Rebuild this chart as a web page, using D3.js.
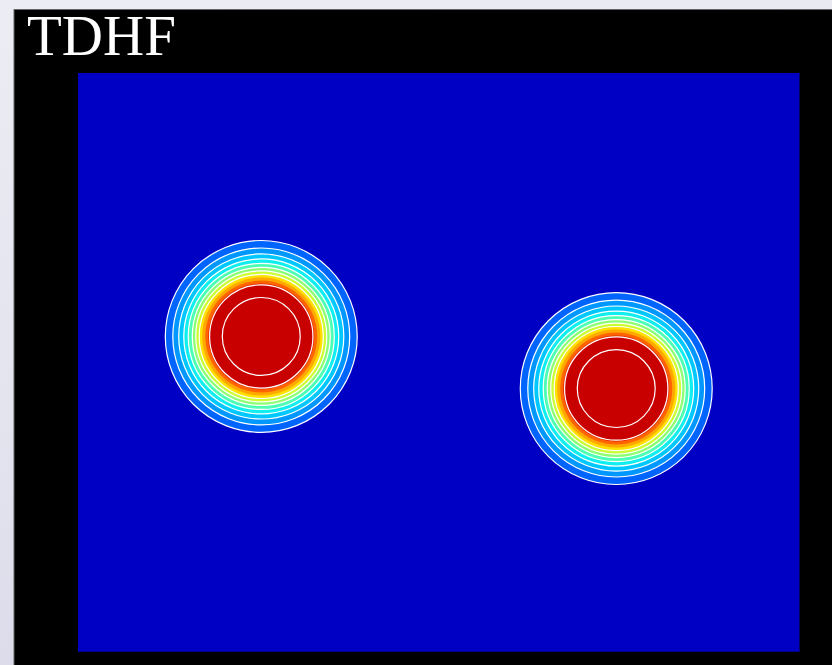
<!DOCTYPE html>
<html>
<head>
<meta charset="utf-8">
<script src="https://cdn.jsdelivr.net/npm/d3@7"></script>
<style>
  html, body { margin: 0; padding: 0; }
  body { width: 832px; height: 665px; overflow: hidden;
         background: linear-gradient(170deg, #ececf4 0%, #e2e2ee 60%, #d6d6e8 100%); }
  svg { display: block; }
</style>
</head>
<body>
<svg id="chart" width="832" height="665"></svg>
<script>
// ---- data ----
const title = "TDHF";
// nucleus centres in fm
const centersX = [-12.3, 12.3];
const centersY = [1.8, -1.8];
// filled density bands: outer radius (fm) of each band, outside -> inside
const bandRadii = [6.65, 6.13, 5.72, 5.37, 5.06, 4.78, 4.54, 4.30, 4.09, 3.88, 3.67];
const bandColors = ["#0064ff", "#0098ff", "#00c8ff", "#10eef0", "#4cffb4", "#8cff72",
                    "#ccff32", "#ffe000", "#ffa800", "#ff6400", "#e42000"];
const coreColor = "#c80000";
// white contour lines (fm)
const contourRadii = [6.65, 6.13, 5.72, 5.37, 5.06, 4.78, 4.54, 4.30, 3.58, 2.70];
// plot domain (fm)
const xDomain = [-25, 25];
const yDomain = [-20, 20];

// ---- layout ----
const svg = d3.select("#chart");
const plot = { left: 78, right: 799.5, top: 73, bottom: 652 };

svg.append("rect").attr("x", 14).attr("y", 9.5).attr("width", 830).attr("height", 670)
  .attr("fill", "#000").attr("stroke", "#666").attr("stroke-width", 1);

const x = d3.scaleLinear().domain(xDomain).range([plot.left, plot.right]);
const y = d3.scaleLinear().domain(yDomain).range([plot.bottom, plot.top]);
const r = d => x(d) - x(0);

svg.append("rect")
  .attr("x", x(xDomain[0])).attr("y", y(yDomain[1]))
  .attr("width", x(xDomain[1]) - x(xDomain[0]))
  .attr("height", y(yDomain[0]) - y(yDomain[1]))
  .attr("fill", "#0000c4");
svg.append("line")
  .attr("x1", x(xDomain[0])).attr("x2", x(xDomain[1]))
  .attr("y1", y(yDomain[0]) - 0.5).attr("y2", y(yDomain[0]) - 0.5)
  .attr("stroke", "#00008a").attr("stroke-width", 1);

const blobs = centersX.map((cx, i) => ({ cx, cy: centersY[i] }));

const g = svg.append("g").selectAll("g.blob").data(blobs).join("g")
  .attr("class", "blob")
  .attr("transform", d => `translate(${x(d.cx)},${y(d.cy)})`);

g.selectAll("circle.band")
  .data(bandRadii.map((rad, i) => ({ rad, color: bandColors[i] })).concat([{ rad: 0, color: coreColor }]))
  .join("circle")
  .attr("class", "band")
  .attr("r", d => d.rad > 0 ? r(d.rad) : r(bandRadii[bandRadii.length - 1]) - 1.5)
  .attr("fill", d => d.color);

g.selectAll("circle.contour")
  .data(contourRadii)
  .join("circle")
  .attr("class", "contour")
  .attr("r", d => r(d))
  .attr("fill", "none")
  .attr("stroke", "#ffffff")
  .attr("stroke-opacity", 1)
  .attr("stroke-width", 1.2);

svg.append("text")
  .attr("x", 27).attr("y", 55)
  .attr("fill", "#ffffff")
  .attr("font-family", "'Liberation Serif', 'Times New Roman', serif")
  .attr("font-size", 57)
  .text(title);
</script>
</body>
</html>
